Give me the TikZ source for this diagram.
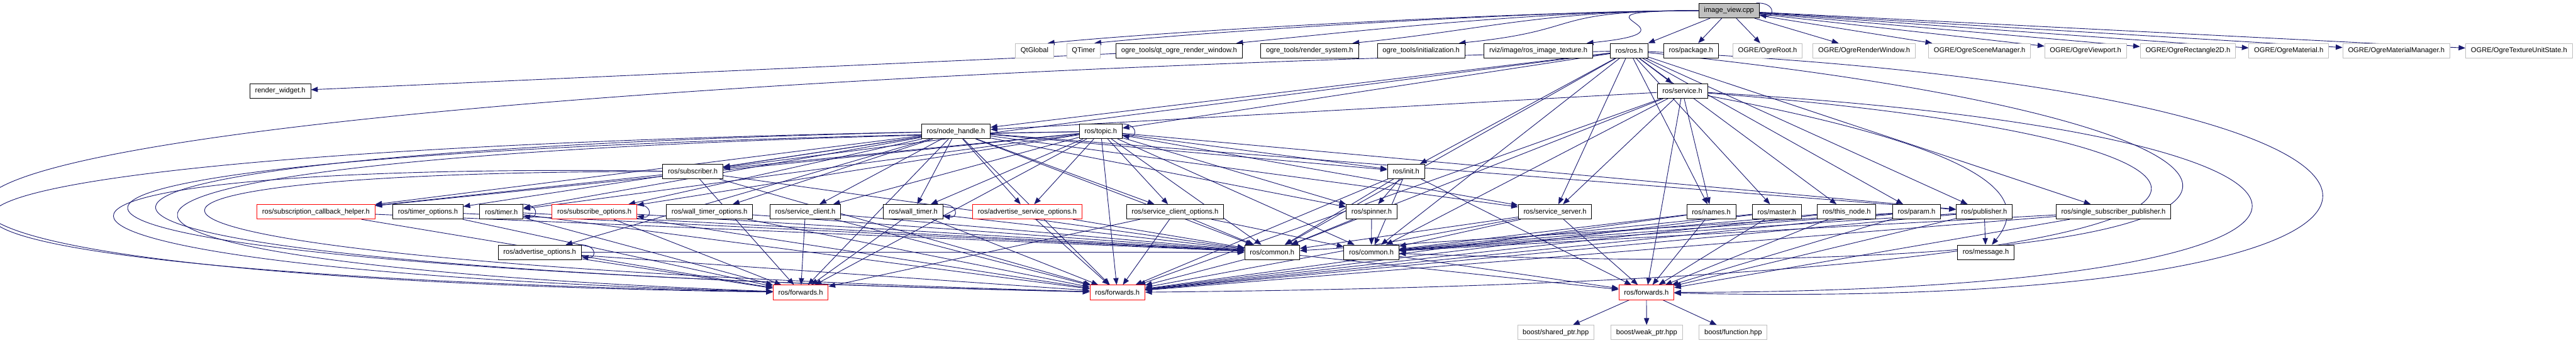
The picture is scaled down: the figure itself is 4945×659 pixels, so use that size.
\documentclass[tikz,border=0pt]{standalone}
\usepackage{fontspec}
\setmainfont{Liberation Sans}
\usepackage{tikz}
\usetikzlibrary{arrows.meta,positioning}
\definecolor{edgeblue}{HTML}{191970}
\definecolor{extgray}{HTML}{BFBFBF}
\pgfdeclarelayer{edges}
\pgfsetlayers{edges,main}

\begin{document}
\begin{tikzpicture}[>={Triangle[length=13pt,width=10pt]},x=1pt,y=-1pt,
  hdr/.style={draw=black,line width=1.1pt,fill=white,minimum height=28pt,
    inner xsep=10pt,inner ysep=0pt,font=\fontsize{13.5}{16}\selectfont},
  ext/.style={hdr,draw=extgray},
  trunc/.style={hdr,draw=red},
  edge/.style={->,edgeblue,line width=1.1pt}]
  \useasboundingbox (0,0) rectangle (4945,659);

  % top file and its direct includes
  \node[hdr,fill=extgray] (iv) at (3319,20.5) {image\_view.cpp};
  \node[ext] (qtglobal) at (1986,97.5) {QtGlobal};
  \node[ext] (qtimer) at (2080,97.5) {QTimer};
  \node[hdr] (qtogre) at (2263.5,97.5) {ogre\_tools/qt\_ogre\_render\_window.h};
  \node[hdr] (rendersys) at (2514,97.5) {ogre\_tools/render\_system.h};
  \node[hdr] (ogreinit) at (2728,97.5) {ogre\_tools/initialization.h};
  \node[hdr] (rosimg) at (2953,97.5) {rviz/image/ros\_image\_texture.h};
  \node[hdr] (rosros) at (3127.5,97.5) {ros/ros.h};
  \node[hdr] (rospkg) at (3246,97.5) {ros/package.h};
  \node[ext] (ogreroot) at (3393,97.5) {OGRE/OgreRoot.h};
  \node[ext] (ogrerw) at (3578.5,97.5) {OGRE/OgreRenderWindow.h};
  \node[ext] (ogresm) at (3800,97.5) {OGRE/OgreSceneManager.h};
  \node[ext] (ogrevp) at (4003.5,97.5) {OGRE/OgreViewport.h};
  \node[ext] (ogrerect) at (4200,97.5) {OGRE/OgreRectangle2D.h};
  \node[ext] (ogremat) at (4393.5,97.5) {OGRE/OgreMaterial.h};
  \node[ext] (ogrematmgr) at (4600,97.5) {OGRE/OgreMaterialManager.h};
  \node[ext] (ogretus) at (4835.5,97.5) {OGRE/OgreTextureUnitState.h};

  \node[hdr] (renderw) at (538,175) {render\_widget.h};
  \node[hdr] (service) at (3229.5,175) {ros/service.h};
  \node[hdr] (nodehandle) at (1835,252.5) {ros/node\_handle.h};
  \node[hdr] (topic) at (2113,252.5) {ros/topic.h};
  \node[hdr] (subscriber) at (1330,329.5) {ros/subscriber.h};
  \node[hdr] (init) at (2699,329.5) {ros/init.h};

  % middle row
  \node[trunc] (subcbhelper) at (606.5,407) {ros/subscription\_callback\_helper.h};
  \node[hdr] (timeropts) at (821.5,407) {ros/timer\_options.h};
  \node[hdr] (timer) at (962.5,407) {ros/timer.h};
  \node[trunc] (subopts) at (1141,407) {ros/subscribe\_options.h};
  \node[hdr] (walltimeropts) at (1362,407) {ros/wall\_timer\_options.h};
  \node[hdr] (svcclient) at (1546,407) {ros/service\_client.h};
  \node[hdr] (walltimer) at (1753,407) {ros/wall\_timer.h};
  \node[trunc] (advsvcopts) at (1972,407) {ros/advertise\_service\_options.h};
  \node[hdr] (svcclientopts) at (2255.5,407) {ros/service\_client\_options.h};
  \node[hdr] (spinner) at (2633,407) {ros/spinner.h};
  \node[hdr] (svcserver) at (2985,407) {ros/service\_server.h};
  \node[hdr] (names) at (3285,407) {ros/names.h};
  \node[hdr] (master) at (3411,407) {ros/master.h};
  \node[hdr] (thisnode) at (3545,407) {ros/this\_node.h};
  \node[hdr] (param) at (3679,407) {ros/param.h};
  \node[hdr] (publisher) at (3809,407) {ros/publisher.h};
  \node[hdr] (singlesubpub) at (4057,407) {ros/single\_subscriber\_publisher.h};

  \node[hdr] (advopts) at (1036,485) {ros/advertise\_options.h};
  \node[hdr] (commonA) at (2442,485) {ros/common.h};
  \node[hdr] (commonB) at (2632.5,485) {ros/common.h};
  \node[hdr] (message) at (3812,485) {ros/message.h};

  \node[trunc] (fwdA) at (1537,562) {ros/forwards.h};
  \node[trunc] (fwdB) at (2145,562) {ros/forwards.h};
  \node[trunc] (fwdC) at (3160.5,562) {ros/forwards.h};

  \node[ext] (sharedptr) at (2986.5,639) {boost/shared\_ptr.hpp};
  \node[ext] (weakptr) at (3161,639) {boost/weak\_ptr.hpp};
  \node[ext] (function) at (3327,639) {boost/function.hpp};

  \begin{pgfonlayer}{edges}
  % includes to the left of image_view.cpp arc over the row
  \foreach \b in {qtglobal,qtimer,qtogre,rendersys,ogreinit,rosimg}
    \draw[edge] (iv.west) .. controls +(-300,0) and +(250,-25) .. ([xshift=-12pt]\b.north east);

  \foreach \a/\b in {iv/rosros,iv/rospkg,iv/ogreroot,iv/ogrerw,iv/ogresm,iv/ogrevp,iv/ogrerect,
      iv/ogremat,iv/ogrematmgr,iv/ogretus,qtogre/renderw,
      rosros/service,rosros/nodehandle,rosros/topic,rosros/init,rosros/subscriber,
      rosros/names,rosros/master,rosros/thisnode,rosros/param,rosros/publisher,
      rosros/singlesubpub,rosros/svcserver,rosros/commonA,rosros/commonB,
      service/nodehandle,service/names,service/svcserver,service/commonB,
      service/fwdC,service/commonA,service/fwdB,
      topic/commonA,topic/commonB,topic/fwdB,topic/fwdA,topic/subcbhelper,topic/subopts,
      topic/svcclient,topic/timer,topic/walltimer,topic/advsvcopts,topic/svcclientopts,
      topic/spinner,topic/init,topic/svcserver,topic/publisher,topic/subscriber,
      nodehandle/fwdA,nodehandle/fwdB,nodehandle/publisher,nodehandle/subscriber,
      nodehandle/svcserver,nodehandle/svcclient,nodehandle/timer,nodehandle/walltimer,
      nodehandle/advopts,nodehandle/advsvcopts,nodehandle/subopts,nodehandle/svcclientopts,
      nodehandle/timeropts,nodehandle/walltimeropts,nodehandle/spinner,nodehandle/init,
      nodehandle/commonA,nodehandle/subcbhelper,
      subscriber/commonA,subscriber/fwdA,subscriber/subcbhelper,subscriber/fwdB,
      init/fwdC,init/spinner,init/commonB,init/commonA,init/fwdB,
      subcbhelper/fwdA,subcbhelper/commonA,timeropts/commonA,timeropts/fwdA,
      timer/commonA,timer/fwdA,timer/fwdB,subopts/fwdA,subopts/commonA,subopts/fwdB,
      walltimeropts/commonA,walltimeropts/fwdB,svcclient/fwdA,svcclient/commonA,
      svcclient/fwdB,walltimer/commonA,walltimer/fwdB,walltimer/fwdA,
      advsvcopts/fwdB,advsvcopts/commonA,svcclientopts/fwdB,svcclientopts/commonA,
      svcclientopts/fwdA,svcclientopts/commonB,spinner/commonA,spinner/commonB,
      svcserver/commonB,svcserver/fwdC,svcserver/commonA,svcserver/fwdB,
      names/fwdC,names/commonB,names/fwdB,master/fwdC,master/commonB,master/fwdB,
      thisnode/fwdC,thisnode/commonB,thisnode/fwdB,param/fwdC,param/commonB,
      param/fwdB,param/commonA,publisher/fwdC,publisher/commonB,publisher/message,
      publisher/fwdB,singlesubpub/fwdC,singlesubpub/commonB,singlesubpub/fwdB,
      advopts/fwdA,advopts/fwdB,advopts/commonA,commonA/fwdB,commonA/fwdC,
      commonB/fwdC,fwdC/sharedptr,fwdC/weakptr,fwdC/function}
    \draw[edge] (\a) -- (\b);

  % self includes
  \foreach \n in {iv,topic,timer,subopts,walltimer,advopts}
    \draw[edge] ([xshift=-6pt]\n.north east) .. controls +(36,-2) and +(30,4) .. ([yshift=6pt]\n.south east);

  % edges routed round the left side
  \draw[edge] (rosros) .. controls (-760,200) and (-740,530) .. (fwdA);
  \draw[edge] (nodehandle) .. controls (-570,300) and (-550,520) .. (fwdA);
  \draw[edge] (subscriber) .. controls (-170,310) and (-160,515) .. (fwdA);
  \draw[edge] (topic) .. controls (-370,290) and (-360,505) .. (fwdB);
  \draw[edge] (nodehandle) .. controls (-245,300) and (-235,510) .. (fwdB);
  \draw[edge] (topic) .. controls (-130,290) and (-120,500) .. (fwdA);
  \draw[edge] (subscriber) .. controls (-15,330) and (-5,500) .. (fwdB);

  % edges routed round the right side
  \draw[edge] (rosros) .. controls (4900,180) and (4860,600) .. (fwdC);
  \draw[edge] (service) .. controls (4700,260) and (4660,560) .. (fwdC);
  \draw[edge] (rosros) .. controls (4620,250) and (4580,560) .. (commonB);
  \draw[edge] (service) .. controls (4560,280) and (4540,540) .. (fwdB);
  \draw[edge] (service) .. controls (3900,300) and (3880,400) .. (message);
  \end{pgfonlayer}
\end{tikzpicture}
\end{document}
